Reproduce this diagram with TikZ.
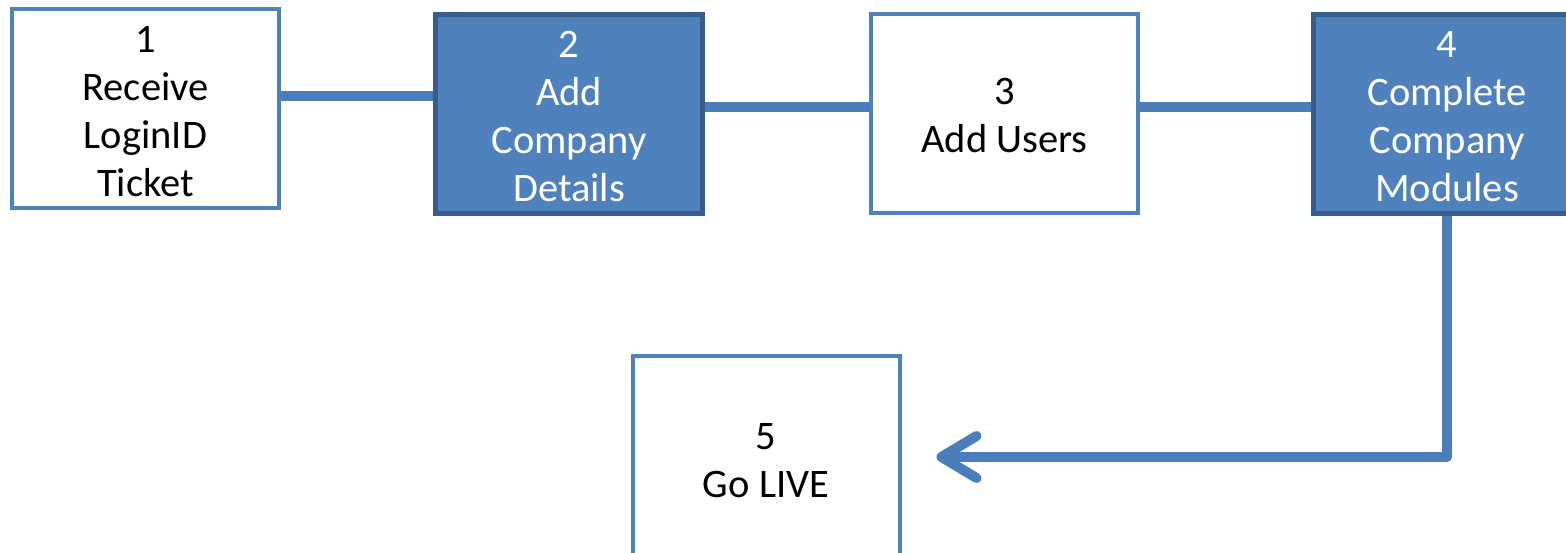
\documentclass[tikz,border=0pt]{standalone}
\usepackage{fontspec}
\setmainfont{Carlito}
\usetikzlibrary{arrows.meta,calc}
\definecolor{accent}{HTML}{4F81BD}
\definecolor{accentdark}{HTML}{385D8A}
\definecolor{linkblue}{HTML}{4A7EBB}
\newcommand\steptext[2][-3pt]{\raisebox{#1}[\height][\depth]{\parbox{262pt}{\centering #2}}}
\begin{document}
\begin{tikzpicture}[x=1pt,y=-1pt,
  stepbox/.style={draw=accent, line width=4pt, fill=white, minimum width=267pt,
    minimum height=199pt, inner sep=0pt, align=center,
    font=\fontsize{40.5}{48}\selectfont},
  darkbox/.style={stepbox, draw=accentdark, line width=5pt, fill=accent, text=white},
  link/.style={draw=linkblue, line width=10pt}]
\useasboundingbox (0,0) rectangle (1566,552);
\clip (0,0) rectangle (1566,552);
\node[stepbox] (b1) at (145.5,108.5) {\steptext{1\\Receive\\LoginID\\Ticket}};
\node[darkbox] (b2) at (569,113.5) {\steptext{2\\Add\\Company\\Details}};
\node[stepbox] (b3) at (1004.5,113) {\steptext{3\\Add Users}};
\node[darkbox] (b4) at (1447,113.5) {\steptext{4\\Complete\\Company\\Modules}};
\node[stepbox, minimum height=202pt] (b5) at (766,457) {\steptext[-4pt]{5\\Go LIVE}};
\coordinate (c12) at ([yshift=12.5pt]b1.east);
\coordinate (c23) at ([yshift=6.5pt]b2.east);
\coordinate (c34) at ([yshift=6pt]b3.east);
\draw[link] (c12) -- (c12 -| b2.west);
\draw[link] (c23) -- (c23 -| b3.west);
\draw[link] (c34) -- (c34 -| b4.west);
\draw[link, line join=round,
  -{Straight Barb[length=35pt,width=42pt,line cap=round,line join=round]}]
  (b4.south) |- ([xshift=35pt]b5.east);
\end{tikzpicture}
\end{document}
